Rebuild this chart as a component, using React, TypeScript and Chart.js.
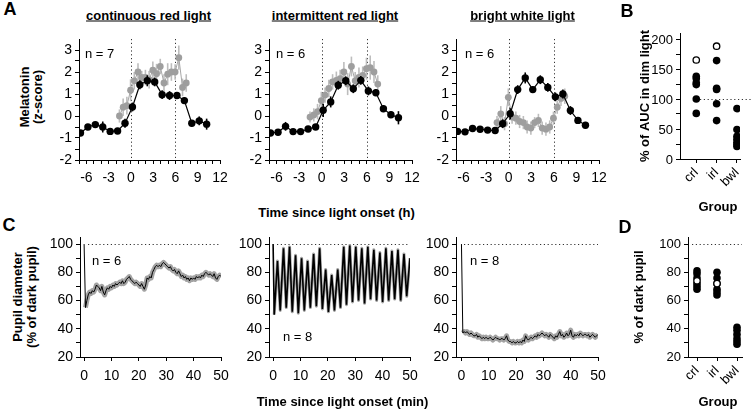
import React, { useEffect, useRef } from 'react';
import { Chart, registerables } from 'chart.js';

Chart.register(...registerables);

const FONT = '"Liberation Sans", Arial, Helvetica, sans-serif';
Chart.defaults.font.family = FONT;
Chart.defaults.color = '#000';

// ---------- Panel A data (melatonin z-score) ----------
const hourlyTimes = [-6.8, -5.8, -4.8, -3.8, -2.8, -1.8, -0.8, 0.2, 1.2, 2.2, 3.2, 4.2, 5.2, 6.2, 7.2, 8.2, 9.2, 10.2];
const halfHourTimes = [-1.55, -1.05, -0.55, -0.05, 0.45, 0.95, 1.45, 1.95, 2.45, 2.95, 3.45, 3.95, 4.45, 4.95, 5.45, 5.95, 6.45, 6.95, 7.45];

const crlDim = [-0.77, -0.5, -0.39, -0.5, -0.7, -0.68, -0.33, 0.41, 1.42, 1.6, 1.55, 0.97, 0.93, 0.93, 0.7, -0.33, -0.22, -0.37];
const crlDimErr = [0.1, 0.1, 0.1, 0.25, 0.08, 0.12, 0.2, 0.2, 0.2, 0.25, 0.2, 0.2, 0.2, 0.15, 0.15, 0.15, 0.2, 0.25];
const crlLight = [0.0, 0.4, 0.47, 1.17, 1.6, 2.0, 1.75, 1.75, 1.65, 2.08, 1.92, 2.25, 1.5, 1.9, 2.0, 2.0, 2.65, 1.3, 1.5];
const crlLightErr = [0.3, 0.4, 0.4, 0.5, 0.4, 0.4, 0.3, 0.35, 0.4, 0.4, 0.45, 0.35, 0.4, 0.5, 0.4, 0.35, 0.55, 0.4, 0.4];

const irlDim = [-0.77, -0.74, -0.47, -0.71, -0.71, -0.59, -0.5, 0.26, 0.64, 1.4, 1.6, 1.24, 1.62, 1.14, 1.06, 0.33, 0.06, -0.08];
const irlDimErr = [0.08, 0.08, 0.2, 0.08, 0.08, 0.1, 0.12, 0.3, 0.25, 0.2, 0.2, 0.2, 0.2, 0.2, 0.15, 0.15, 0.15, 0.3];
const irlLight = [-0.05, 0.05, 0.2, 0.7, 0.95, 1.25, 1.55, 1.62, 1.7, 2.0, 1.45, 2.25, 1.6, 1.75, 1.85, 2.15, 2.2, 2.0, 1.45];
const irlLightErr = [0.25, 0.3, 0.35, 0.4, 0.35, 0.4, 0.35, 0.4, 0.4, 0.45, 0.5, 0.45, 0.4, 0.45, 0.4, 0.5, 0.55, 0.5, 0.4];

const bwlDim = [-0.7, -0.72, -0.57, -0.6, -0.64, -0.66, -0.35, 0.1, 1.2, 1.73, 1.2, 1.65, 1.3, 0.87, 1.0, 0.25, -0.2, -0.42];
const bwlDimErr = [0.1, 0.08, 0.08, 0.08, 0.08, 0.1, 0.2, 0.25, 0.2, 0.25, 0.15, 0.2, 0.2, 0.2, 0.2, 0.2, 0.15, 0.15];
const bwlLight = [-0.3, 0.1, -0.35, 0.85, -0.05, -0.1, -0.25, -0.3, -0.5, -0.55, -0.3, -0.2, -0.55, -0.6, -0.5, -0.1, 0.4, 0.8, 0.9];
const bwlLightErr = [0.3, 0.35, 0.3, 0.4, 0.3, 0.3, 0.3, 0.3, 0.3, 0.3, 0.25, 0.3, 0.3, 0.3, 0.3, 0.3, 0.3, 0.35, 0.35];

const hourTicks = [-7, -6, -5, -4, -3, -2, -1, 0, 1, 2, 3, 4, 5, 6, 7, 8, 9, 10, 11, 12];
const hourLabels = ['', '-6', '', '', '-3', '', '', '0', '', '', '3', '', '', '6', '', '', '9', '', '', '12'];
const zTicks = [-2, -1.5, -1, -0.5, 0, 0.5, 1, 1.5, 2, 2.5, 3];
const zLabels = ['-2', '', '-1', '', '0', '', '1', '', '2', '', '3'];

// ---------- Panel B data (% of AUC in dim light) ----------
const groupLabels = ['crl', 'irl', 'bwl'];
const crlAuc = [138, 134, 127, 124, 100, 76];
const irlAuc = [164, 118, 116, 92, 64];
const bwlAuc = [84, 49, 38, 33, 28, 24, 21];
const crlAucOpen = [165];
const irlAucOpen = [188];
const aucTicks = [0, 25, 50, 75, 100, 125, 150, 175, 200];
const aucLabels = ['0', '', '50', '', '100', '', '150', '', '200'];

// ---------- Panel C data (pupil diameter, % of dark pupil) ----------
const pupilStep = 0.5; // sampling interval (min)
const crlPupil = [
  100, 55, 60, 64, 66, 65, 67, 66, 68, 71, 70, 69, 67, 70, 66, 64, 67, 69, 68, 70,
  69, 71, 70, 72, 71, 72, 73, 72, 74, 72, 73, 75, 76, 77, 75, 74, 73, 72, 73, 72,
  71, 70, 72, 70, 68, 71, 76, 75, 77, 76, 80, 82, 84, 85, 84, 85, 84, 86, 87, 86,
  85, 84, 83, 84, 82, 81, 82, 80, 79, 81, 79, 77, 78, 76, 77, 75, 76, 74, 76, 75,
  76, 75, 77, 76, 77, 76, 78, 77, 79, 80, 79, 78, 79, 78, 77, 79, 76, 75, 77, 78, 77,
];
const bwlPupil = [
  100, 37, 38, 37, 38, 37, 36, 37, 36, 35, 35, 36, 34, 35, 34, 33, 34, 33, 34, 33,
  33, 34, 33, 32, 33, 34, 33, 33, 32, 33, 33, 32, 33, 35, 32, 31, 31, 30, 31, 30,
  30, 31, 30, 31, 30, 32, 31, 35, 33, 32, 33, 34, 33, 34, 35, 34, 36, 35, 36, 37,
  36, 35, 36, 35, 34, 36, 35, 34, 33, 35, 34, 36, 38, 35, 36, 34, 35, 37, 35, 36,
  39, 35, 34, 36, 35, 36, 35, 37, 36, 35, 36, 36, 35, 36, 34, 35, 36, 35, 34, 35, 36,
];
const irlPupilTimes = [0, 0.4, 1.6, 2.6, 3.8, 4.8, 6.0, 7.0, 8.2, 9.2, 10.4, 11.4, 12.6, 13.6, 14.8, 15.8, 17.0, 18.0, 19.2, 20.2, 21.4, 22.4, 23.6, 24.6, 25.8, 26.8, 28.0, 29.0, 30.2, 31.2, 32.4, 33.4, 34.6, 35.6, 36.8, 37.8, 39.0, 40.0, 41.2, 42.2, 43.4, 44.4, 45.6, 46.6, 47.8, 48.8, 50.0];
const irlPupil = [100, 50, 88, 53, 97, 55, 98, 52, 92, 51, 90, 53, 88, 55, 93, 56, 97, 54, 82, 52, 78, 53, 82, 55, 98, 57, 99, 59, 98, 60, 97, 58, 98, 61, 96, 60, 94, 59, 97, 60, 95, 61, 96, 60, 93, 63, 90];
const minTicks = [0, 10, 20, 30, 40, 50];
const minLabels = ['0', '10', '20', '30', '40', '50'];
const pctTicks = [20, 30, 40, 50, 60, 70, 80, 90, 100];
const pctLabels = ['20', '', '40', '', '60', '', '80', '', '100'];

// ---------- Panel D data (% of dark pupil) ----------
const crlDark = [81, 79, 76, 72, 70, 68];
const irlDark = [80, 76, 72, 68, 66, 64];
const bwlDark = [41, 39, 36, 33, 31, 29];
const crlDarkOpen = [74];
const irlDarkOpen = [72];

// ---------- plugins ----------
const errorBarPlugin: any = {
  id: 'errorBars',
  beforeDatasetDraw(chart: any, args: any) {
    const ds = chart.data.datasets[args.index];
    if (!ds.errors) return;
    const ys = chart.scales.y;
    const ctx = chart.ctx;
    ctx.save();
    ctx.strokeStyle = ds.errorColor;
    ctx.lineWidth = ds.errorWidth || 1.6;
    args.meta.data.forEach((pt: any, i: number) => {
      const v = ds.data[i].y;
      const e = ds.errors[i];
      ctx.beginPath();
      ctx.moveTo(pt.x, ys.getPixelForValue(v + e));
      ctx.lineTo(pt.x, ys.getPixelForValue(v - e));
      ctx.stroke();
    });
    ctx.restore();
  },
};

const refLinePlugin: any = {
  id: 'refLines',
  beforeDatasetsDraw(chart: any, _a: any, opts: any) {
    const { ctx, chartArea: ca, scales } = chart;
    ctx.save();
    ctx.strokeStyle = '#333';
    ctx.lineWidth = 1;
    ctx.setLineDash([1.2, 2.6]);
    (opts.x || []).forEach((v: number) => {
      const px = Math.round(scales.x.getPixelForValue(v)) + 0.5;
      ctx.beginPath();
      ctx.moveTo(px, ca.top);
      ctx.lineTo(px, ca.bottom);
      ctx.stroke();
    });
    (opts.y || []).forEach((v: number) => {
      const py = Math.round(scales.y.getPixelForValue(v)) + 0.5;
      ctx.beginPath();
      ctx.moveTo(ca.left + (opts.yStart || 0), py);
      ctx.lineTo(ca.right + (opts.yEnd || 0), py);
      ctx.stroke();
    });
    ctx.restore();
  },
};

// ---------- helpers ----------
function axis(min: number, max: number, tickVals: number[], labels: string[], fitSize: number, horizontal: boolean, extra: any = {}) {
  const a: any = {
    type: 'linear',
    min,
    max,
    afterBuildTicks: (s: any) => {
      s.ticks = tickVals.map((v) => ({ value: v }));
    },
    afterFit: (s: any) => {
      if (horizontal) s.height = fitSize;
      else s.width = fitSize;
    },
    ticks: {
      autoSkip: false,
      maxRotation: extra.rotation || 0,
      minRotation: extra.rotation || 0,
      padding: extra.padding ?? 3,
      color: '#000',
      font: { family: FONT, size: extra.size || 14 },
      callback: (_v: number, i: number) => (extra.manual ? '' : labels[i] ?? ''),
    },
    grid: { display: true, drawOnChartArea: false, drawTicks: true, tickLength: 4, tickColor: '#000', tickWidth: 1 },
    border: { display: true, color: '#000', width: 1 },
  };
  if (extra.title) {
    a.title = { display: true, text: extra.title, color: '#000', padding: 0, font: { family: FONT, size: 13, weight: 'bold', lineHeight: 1.2 } };
  }
  return a;
}

type Geo = { pl: number; pr: number; pt: number; pb: number; L: number; T: number; R: number; B: number };

function baseOptions(g: Geo, scales: any, refLines: any) {
  return {
    responsive: false,
    maintainAspectRatio: false,
    animation: false,
    devicePixelRatio: 1,
    events: [],
    layout: { padding: { top: g.T, right: g.R, left: 0, bottom: 0 } },
    plugins: { legend: { display: false }, tooltip: { enabled: false }, title: { display: false }, refLines },
    scales,
  };
}

function melatoninConfig(g: Geo, dim: number[], dimErr: number[], light: number[], lightErr: number[]) {
  return {
    type: 'line',
    data: {
      datasets: [
        {
          data: hourlyTimes.map((x, i) => ({ x, y: dim[i] })),
          errors: dimErr,
          errorColor: '#000',
          borderColor: '#000',
          backgroundColor: '#000',
          borderWidth: 1.2,
          pointRadius: 3.7,
          pointBackgroundColor: '#000',
          pointBorderWidth: 0,
          tension: 0,
        },
        {
          data: halfHourTimes.map((x, i) => ({ x, y: light[i] })),
          errors: lightErr,
          errorColor: '#bdbdbd',
          borderColor: '#a6a6a6',
          backgroundColor: '#9e9e9e',
          borderWidth: 1,
          pointRadius: 3.4,
          pointBackgroundColor: '#9e9e9e',
          pointBorderWidth: 0,
          tension: 0,
        },
      ],
    },
    options: baseOptions(
      g,
      {
        x: axis(-7, 12, hourTicks, hourLabels, g.B, true, { padding: 6 }),
        y: axis(-2, 3.5, zTicks, zLabels, g.L, false),
      },
      { x: [0, 6] }
    ),
    plugins: [errorBarPlugin, refLinePlugin],
  };
}

function groupConfig(g: Geo, xmin: number, xmax: number, ymin: number, ymax: number, yTicks: number[], yLabels: string[],
  crl: number[], irl: number[], bwl: number[], crlOpen: number[], irlOpen: number[], refStart: number, refEnd: number, yTitle: string, manual: boolean) {
  const filled = [
    ...crl.map((y) => ({ x: 1, y })),
    ...irl.map((y) => ({ x: 2, y })),
    ...bwl.map((y) => ({ x: 3, y })),
  ];
  const open = [...crlOpen.map((y) => ({ x: 1, y })), ...irlOpen.map((y) => ({ x: 2, y }))];
  return {
    type: 'scatter',
    data: {
      datasets: [
        { data: open, pointRadius: 3.2, pointBackgroundColor: '#fff', pointBorderColor: '#000', pointBorderWidth: 1.3 },
        { data: filled, pointRadius: 3.8, pointBackgroundColor: '#000', pointBorderWidth: 0 },
      ],
    },
    options: baseOptions(
      g,
      {
        x: axis(xmin, xmax, [1, 2, 3], groupLabels, g.B, true, { rotation: 45, padding: 2, size: 13 }),
        y: axis(ymin, ymax, yTicks, yLabels, g.L, false, { size: 13, title: yTitle, manual }),
      },
      { y: [100], yStart: refStart, yEnd: refEnd }
    ),
    plugins: [refLinePlugin],
  };
}

function pupilConfig(g: Geo, xmin: number, times: number[], values: number[], lineW: number, bandW: number) {
  const pts = values.map((y, i) => ({ x: times[i], y }));
  return {
    type: 'line',
    data: {
      datasets: [
        { data: pts, borderColor: '#000', borderWidth: lineW, pointRadius: 0, tension: 0 },
        {
          data: pts,
          borderColor: '#a3a3a3',
          borderWidth: bandW,
          pointRadius: 0,
          tension: 0,
          borderJoinStyle: 'round',
          segment: { borderColor: (c: any) => (c.p0DataIndex === 0 ? 'rgba(0,0,0,0)' : undefined) },
        },
      ],
    },
    options: baseOptions(
      g,
      {
        x: axis(xmin, 50, minTicks, minLabels, g.B, true, { padding: 7 }),
        y: axis(20, 105, pctTicks, pctLabels, g.L, false),
      },
      { y: [100], yStart: 8 }
    ),
    plugins: [refLinePlugin],
  };
}

function ChartBox({ g, config, z = 0 }: { g: Geo; config: any; z?: number }) {
  const ref = useRef<HTMLCanvasElement>(null);
  const left = g.pl - g.L;
  const top = g.pt - g.T;
  const width = g.pr - g.pl + g.L + g.R;
  const height = g.pb - g.pt + g.T + g.B;
  useEffect(() => {
    const chart = new Chart(ref.current as HTMLCanvasElement, config as any);
    return () => chart.destroy();
  }, []);
  return <canvas ref={ref} width={width} height={height} style={{ position: 'absolute', left, top, width, height, zIndex: z }} />;
}

function Txt({ x, y, children, size = 13, bold = true, rotate = false, underline = false, align = 'center', lh = 1, z = 1 }: any) {
  const tx = align === 'left' ? '0' : align === 'right' ? '-100%' : '-50%';
  return (
    <div
      style={{
        position: 'absolute',
        left: x,
        top: y,
        transform: `translate(${tx}, -50%)${rotate ? ' rotate(-90deg)' : ''}`,
        fontFamily: FONT,
        fontSize: size,
        fontWeight: bold ? 'bold' : 'normal',
        textDecoration: underline ? 'underline' : 'none',
        whiteSpace: 'pre',
        textAlign: 'center',
        lineHeight: lh,
        color: '#000',
        pointerEvents: 'none',
        zIndex: z,
      }}
    >
      {children}
    </div>
  );
}

const gA1: Geo = { pl: 79, pr: 220, pt: 39, pb: 160, L: 30, T: 12, R: 18, B: 30 };
const gA2: Geo = { pl: 269, pr: 412, pt: 39, pb: 160, L: 30, T: 12, R: 18, B: 30 };
const gA3: Geo = { pl: 456, pr: 599, pt: 39, pb: 160, L: 30, T: 12, R: 18, B: 30 };
const gB: Geo = { pl: 680, pr: 740, pt: 33, pb: 159, L: 42, T: 12, R: 14, B: 40 };
const gC1: Geo = { pl: 80, pr: 221, pt: 237, pb: 357, L: 30, T: 12, R: 18, B: 30 };
const gC2: Geo = { pl: 269, pr: 410, pt: 237, pb: 357, L: 30, T: 12, R: 18, B: 30 };
const gC3: Geo = { pl: 456, pr: 598, pt: 237, pb: 357, L: 30, T: 12, R: 18, B: 30 };
const gD: Geo = { pl: 688, pr: 742, pt: 237, pb: 357, L: 56, T: 12, R: 14, B: 40 };
const bYMin = 0;
const bYMax = 210;

export default function App() {
  const pupilTimes = crlPupil.map((_, i) => i * pupilStep);
  // panel B tick labels, placed with the same linear mapping as the panel's y scale
  const bLabelY = (v: number) => gB.pb - ((v - bYMin) / (bYMax - bYMin)) * (gB.pb - gB.pt);
  return (
    <div style={{ position: 'absolute', left: 0, top: 0, width: 752, height: 411, overflow: 'hidden', background: '#fff' }}>
      <Txt x={10} y={9} size={18}>A</Txt>
      <Txt x={627} y={11} size={18}>B</Txt>
      <Txt x={9} y={225} size={18}>C</Txt>
      <Txt x={625} y={227} size={18}>D</Txt>

      <Txt x={148.5} y={15} underline>continuous red light</Txt>
      <Txt x={335} y={15} underline>intermittent red light</Txt>
      <Txt x={522.5} y={15} underline>bright white light</Txt>

      <Txt x={31} y={97} rotate lh={1.0}>{'Melatonin\n(z-score)'}</Txt>
      <Txt x={24.5} y={297} rotate lh={1.05}>{'Pupil diameter\n(% of dark pupil)'}</Txt>

      <Txt x={336.5} y={212}>Time since light onset (h)</Txt>
      <Txt x={342.5} y={401}>Time since light onset (min)</Txt>
      <Txt x={718} y={206}>Group</Txt>
      <Txt x={718} y={401}>Group</Txt>

      <Txt x={85} y={53} bold={false} align="left">n = 7</Txt>
      <Txt x={276} y={53} bold={false} align="left">n = 6</Txt>
      <Txt x={465} y={53} bold={false} align="left">n = 6</Txt>
      <Txt x={92} y={260} bold={false} align="left">n = 6</Txt>
      <Txt x={283} y={336} bold={false} align="left">n = 8</Txt>
      <Txt x={470} y={260} bold={false} align="left">n = 8</Txt>

      <ChartBox g={gA1} config={melatoninConfig(gA1, crlDim, crlDimErr, crlLight, crlLightErr)} />
      <ChartBox g={gA2} config={melatoninConfig(gA2, irlDim, irlDimErr, irlLight, irlLightErr)} />
      <ChartBox g={gA3} config={melatoninConfig(gA3, bwlDim, bwlDimErr, bwlLight, bwlLightErr)} />
      <ChartBox g={gC1} config={pupilConfig(gC1, -1.5, pupilTimes, crlPupil, 1, 5)} />
      <ChartBox g={gC2} config={pupilConfig(gC2, -1.5, irlPupilTimes, irlPupil, 1.6, 3)} />
      <ChartBox g={gC3} config={pupilConfig(gC3, -2, pupilTimes, bwlPupil, 1, 5)} />
      <ChartBox g={gD} config={groupConfig(gD, 0.55, 3.25, 20, 105, pctTicks, pctLabels, crlDark, irlDark, bwlDark, crlDarkOpen, irlDarkOpen, 4, 0, '% of dark pupil', false)} />
      <ChartBox g={gB} z={5} config={groupConfig(gB, 0.2, 3.15, bYMin, bYMax, aucTicks, aucLabels, crlAuc, irlAuc, bwlAuc, crlAucOpen, irlAucOpen, 20, 12, '% of AUC in dim light', true)} />

      {aucTicks.map((v, i) =>
        aucLabels[i] ? (
          <Txt key={'bl' + i} x={gB.pl - 7} y={bLabelY(v)} bold={false} align="right" z={20}>
            {aucLabels[i]}
          </Txt>
        ) : null
      )}
    </div>
  );
}
